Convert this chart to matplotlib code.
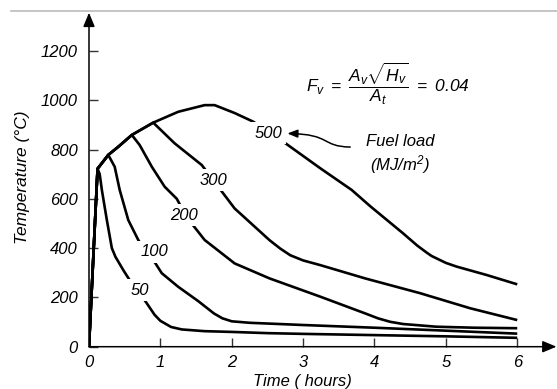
import matplotlib
matplotlib.use("Agg")
import matplotlib.pyplot as plt
from matplotlib.patches import FancyArrowPatch
from matplotlib.path import Path
from matplotlib.lines import Line2D

plt.rcParams['font.family'] = ['Liberation Sans', 'DejaVu Sans']
plt.rcParams['font.style'] = 'italic'
plt.rcParams['mathtext.fontset'] = 'custom'
plt.rcParams['mathtext.it'] = 'Liberation Sans:italic'
plt.rcParams['mathtext.rm'] = 'Liberation Sans:italic'
plt.rcParams['mathtext.sf'] = 'Liberation Sans:italic'

# ---- data (time in hours, temperature in deg C) ----
fuel_loads = ["50", "100", "200", "300", "500"]

t_50 = [0, 0.12, 0.15, 0.18, 0.25, 0.32, 0.37, 0.48, 0.57, 0.69, 0.81, 0.92, 1.0, 1.15, 1.30, 1.62, 2.0, 2.5, 3.0, 4.0, 5.0, 6.0]
T_50 = [0, 722, 700, 636, 514, 400, 365, 311, 270, 225, 176, 129, 105, 80, 70, 63, 60, 55, 52, 47, 42, 36]

t_100 = [0, 0.12, 0.27, 0.36, 0.43, 0.55, 0.69, 0.78, 0.90, 1.02, 1.25, 1.53, 1.75, 1.87, 2.0, 2.25, 3.0, 4.0, 5.0, 6.0]
T_100 = [0, 722, 778, 730, 636, 514, 433, 392, 352, 298, 243, 185, 135, 115, 103, 97, 88, 77, 65, 53]

t_200 = [0, 0.12, 0.27, 0.41, 0.60, 0.71, 0.88, 1.06, 1.23, 1.37, 1.62, 2.04, 2.53, 3.24, 3.87, 4.05, 4.22, 4.4, 4.87, 5.4, 6.0]
T_200 = [0, 722, 778, 811, 859, 818, 730, 649, 600, 525, 433, 338, 277, 203, 135, 115, 101, 92, 81, 77, 75]

t_300 = [0, 0.12, 0.27, 0.41, 0.60, 0.90, 1.20, 1.58, 1.81, 2.04, 2.53, 2.68, 2.82, 3.0, 3.24, 3.87, 4.64, 5.34, 6.0]
T_300 = [0, 722, 778, 811, 859, 909, 825, 737, 649, 561, 432, 398, 371, 350, 331, 277, 217, 156, 108]

t_500 = [0, 0.12, 0.27, 0.41, 0.60, 0.90, 1.25, 1.62, 1.76, 2.04, 2.30, 2.72, 3.24, 3.68, 3.94, 4.40, 4.6, 4.73, 4.8, 5.0, 5.15, 5.57, 6.0]
T_500 = [0, 722, 778, 811, 859, 909, 953, 980, 980, 948, 913, 832, 724, 636, 570, 460, 410, 382, 368, 340, 325, 291, 253]

curve_t = [t_50, t_100, t_200, t_300, t_500]
curve_T = [T_50, T_100, T_200, T_300, T_500]
label_t = [0.71, 0.91, 1.33, 1.74, 2.52]
label_T = [230, 385, 534, 676, 865]

x_ticks = [0, 1, 2, 3, 4, 5, 6]
y_ticks = [0, 200, 400, 600, 800, 1000, 1200]

# ---- figure ----
W, H = 557, 389
fig = plt.figure(figsize=(W / 100, H / 100), dpi=100)
ax = fig.add_axes([89 / W, 42.3 / H, 467.5 / W, 334 / H])
ax.set_xlim(0, 6.55)
ax.set_ylim(0, 1355)

for t, T in zip(curve_t, curve_T):
    ax.plot(t, T, color='black', lw=1.9, solid_joinstyle='round', solid_capstyle='butt', zorder=2)

for lab, lt, lT in zip(fuel_loads, label_t, label_T):
    ax.text(lt, lT, lab, fontsize=12, ha='center', va='center', zorder=3,
            bbox=dict(facecolor='white', edgecolor='none', pad=2.5))

# axes with arrows
for s in ax.spines.values():
    s.set_visible(False)
ax.annotate('', xy=(1, 0), xytext=(0, 0), xycoords='axes fraction', textcoords='axes fraction',
            arrowprops=dict(arrowstyle='-|>,head_width=0.25,head_length=0.6', lw=1.1, color='black',
                            shrinkA=0, shrinkB=0, mutation_scale=14), zorder=4)
ax.annotate('', xy=(0, 1), xytext=(0, 0), xycoords='axes fraction', textcoords='axes fraction',
            arrowprops=dict(arrowstyle='-|>,head_width=0.25,head_length=0.6', lw=1.1, color='black',
                            shrinkA=0, shrinkB=0, mutation_scale=14), zorder=4)

ax.set_xticks(x_ticks)
ax.set_yticks(y_ticks)
ax.tick_params(axis='both', direction='in', length=6.5, width=1.0, labelsize=12, color='#333333')
ax.tick_params(axis='x', pad=6)
ax.tick_params(axis='y', pad=8)

# formula
ax.text(4.19, 1068, r'$F_v\ =\ \dfrac{A_v\sqrt{H_v}}{A_t}\ =\ 0.04$', fontsize=12.5, ha='center', va='center')

# fuel load note with arrow
ax.text(4.36, 832, 'Fuel load', fontsize=12, ha='center', va='center')
ax.text(4.36, 737, r'(MJ/m$^2$)', fontsize=12, ha='center', va='center')
verts = [(3.66, 810), (3.25, 812), (3.40, 862), (2.78, 865)]
codes = [Path.MOVETO, Path.CURVE4, Path.CURVE4, Path.CURVE4]
arr = FancyArrowPatch(path=Path(verts, codes), arrowstyle='-|>,head_width=0.2,head_length=0.5',
                      mutation_scale=12, lw=1.1, color='black', zorder=5)
ax.add_patch(arr)

# axis labels
fig.text(302 / W, 1 - 381.5 / H, 'Time ( hours)', fontsize=12, ha='center', va='center')
fig.text(22.5 / W, 1 - 177.5 / H, 'Temperature (°C)', fontsize=12.5, ha='center', va='center', rotation=90)

# top grey border line
fig.add_artist(Line2D([11 / W, 1.0], [1 - 11 / H, 1 - 11 / H], transform=fig.transFigure,
                      color='#bbbbbb', lw=1.2))

fig.savefig('out.png', dpi=100, facecolor='white')
